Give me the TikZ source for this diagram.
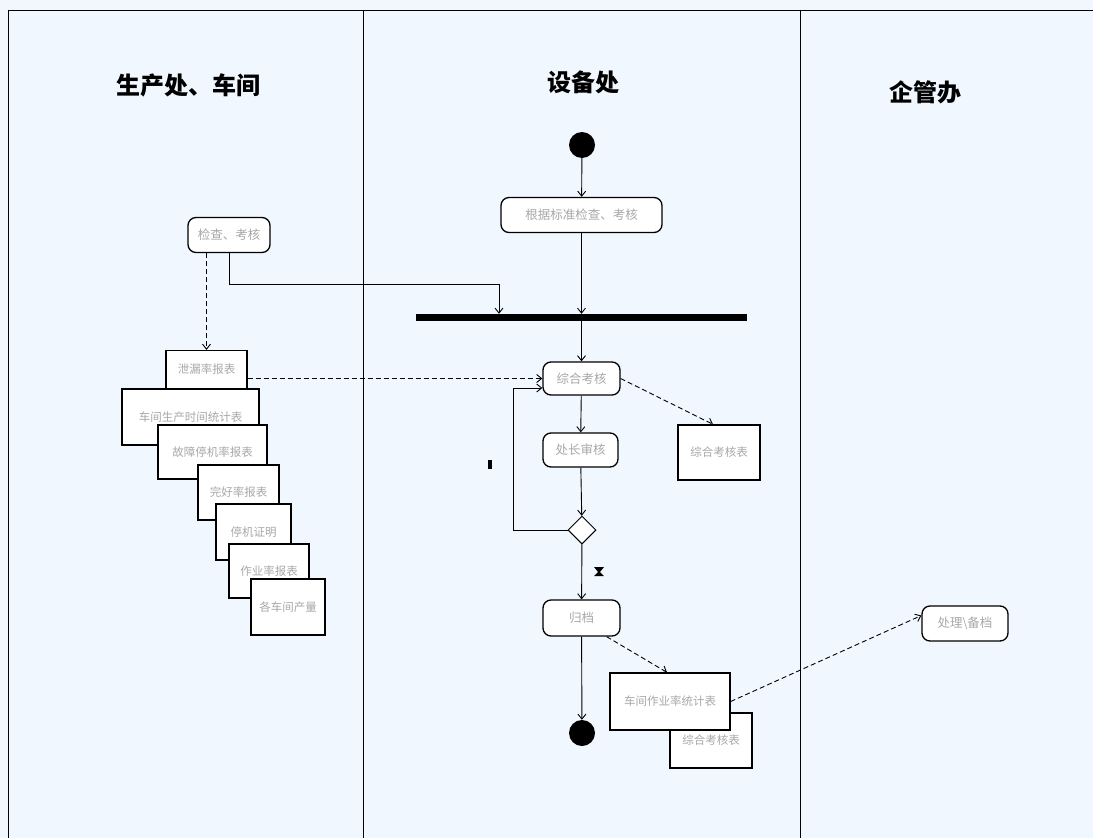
\documentclass[tikz,border=0pt]{standalone}
\usepackage{fontspec}
\setmainfont{Noto Sans CJK SC}
\usetikzlibrary{arrows.meta,shapes.geometric}
\definecolor{lanebg}{HTML}{F0F7FE}
\definecolor{boxtext}{HTML}{A8A8A8}

\begin{document}
\begin{tikzpicture}[x=1pt, y=-1pt, >={Straight Barb[length=5pt,width=8pt]},
  activity/.style={draw, fill=white, rounded corners=8pt, line width=1.3pt,
    minimum height=35pt, inner xsep=3pt, text=boxtext, font=\fontsize{12.5}{14}\selectfont},
  docbox/.style={draw, fill=white, line width=1.3pt, inner sep=2pt,
    text=boxtext, font=\fontsize{11.5}{13}\selectfont},
  blackdot/.style={circle, fill=black, minimum size=26pt, inner sep=0pt},
  flow/.style={->, line width=0.9pt},
  objflow/.style={->, dash pattern=on 5pt off 3pt, line width=0.9pt},
  lanetitle/.style={font=\bfseries\fontsize{24}{28}\selectfont}]

  % Background and swimlanes
  \fill[lanebg] (0,0) rectangle (1093,838);
  \useasboundingbox (0,0) rectangle (1093,838);
  \draw[line width=1pt] (8,838) -- (8,10) -- (1093,10);
  \draw[line width=0.8pt] (363,10) -- (363,838);
  \draw[line width=0.8pt] (800,10) -- (800,838);

  \node[lanetitle] (laneprod) at (188,85) {生产处、车间};
  \node[lanetitle] (laneequip) at (583,82) {设备处};
  \node[lanetitle] (lanemgmt) at (925,92) {企管办};

  % Activities
  \node[blackdot] (start) at (582,145) {};
  \node[activity, minimum width=161pt] (std) at (581.5,215) {根据标准检查、考核};
  \node[activity, minimum width=82pt] (chk) at (229,235) {检查、考核};
  \node[fill=black, minimum width=331pt, minimum height=7pt, inner sep=0pt] (bar) at (581.5,317.5) {};
  \node[activity, minimum width=77pt, minimum height=33pt] (review) at (581.5,378.5) {综合考核};
  \node[activity, minimum width=75pt, minimum height=34pt] (chief) at (580.5,450) {处长审核};
  \node[diamond, draw, fill=white, line width=1pt, minimum width=28pt, minimum height=28pt, inner sep=0pt] (dec) at (582,530) {};
  \node[activity, minimum width=77pt, minimum height=36pt] (archive) at (581.5,618) {归档};
  \node[blackdot] (stop) at (582,733) {};
  \node[activity, minimum width=86pt] (handle) at (965,623.5) {处理\textbackslash 备档};

  % Documents
  \node[docbox, minimum width=82pt, minimum height=55pt] (sheet) at (719,452.5) {综合考核表};
  \node[docbox, minimum width=82pt, minimum height=55pt] (sheettwo) at (711,740.5) {综合考核表};
  \node[docbox, minimum width=120pt, minimum height=57pt] (rate) at (670,701.5) {车间作业率统计表};

  \node[docbox, minimum width=81pt, minimum height=38pt] (leak) at (206.5,369.5) {泄漏率报表};
  \node[docbox, minimum width=137pt, minimum height=56pt] (worktime) at (190.5,417) {车间生产时间统计表};
  \node[docbox, minimum width=109pt, minimum height=54pt] (fault) at (212.5,452) {故障停机率报表};
  \node[docbox, minimum width=81pt, minimum height=55pt] (intact) at (238.5,492.5) {完好率报表};
  \node[docbox, minimum width=75pt, minimum height=56pt] (proof) at (253.5,532) {停机证明};
  \node[docbox, minimum width=80pt, minimum height=54pt] (oprate) at (269,571) {作业率报表};
  \node[docbox, minimum width=74pt, minimum height=56pt] (output) at (288,607) {各车间产量};

  % Guard marks
  \node[fill=black, minimum width=4pt, minimum height=9pt, inner sep=0pt] (guardno) at (490,464) {};
  \fill (594,567) -- (604,567) -- (600,572) -- (604,576) -- (594,576) -- (598,572) -- cycle;

  % Control flow
  \coordinate (bend) at (499,284);
  \coordinate (loop) at (513,388);
  \draw[flow] (start) -- (std);
  \draw[flow] (std.south) -- (std.south |- bar.north);
  \draw[flow] (chk.south) |- (bend) -- (bend |- bar.north);
  \draw[flow] (bar) -- (review);
  \draw[flow] (review) -- (chief);
  \draw[flow] (chief) -- (dec);
  \draw[flow] (dec.west) -| (loop) -- (loop -| review.west);
  \draw[flow] (dec) -- (archive);
  \draw[flow] (archive) -- (stop);

  % Object flow
  \draw[objflow] (leak.north |- chk.south) -- (leak.north);
  \draw[objflow] (leak.east |- review.west) -- (review.west);
  \draw[objflow] (review.east) -- ([xshift=-6pt]sheet.north);
  \draw[objflow] ([xshift=-14pt]archive.south east) -- ([xshift=-3pt]rate.north);
  \draw[objflow] (rate.east) -- ([yshift=8pt]handle.west);
\end{tikzpicture}
\end{document}
